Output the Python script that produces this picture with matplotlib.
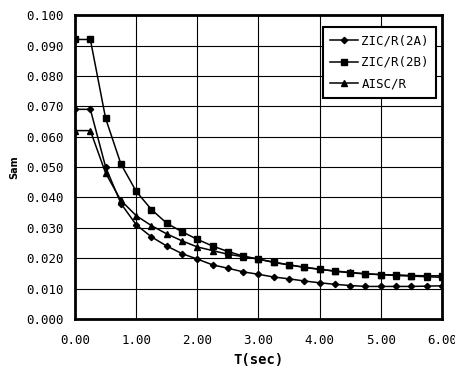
import matplotlib
matplotlib.use("Agg")
import matplotlib.pyplot as plt
import numpy as np

T = [0.0, 0.25, 0.5, 0.75, 1.0, 1.25, 1.5, 1.75, 2.0, 2.25, 2.5, 2.75, 3.0,
     3.25, 3.5, 3.75, 4.0, 4.25, 4.5, 4.75, 5.0, 5.25, 5.5, 5.75, 6.0]

zic_2a = [0.069, 0.069, 0.050, 0.038, 0.031, 0.027, 0.024, 0.0215, 0.0197,
          0.0178, 0.0167, 0.0155, 0.0147, 0.0138, 0.0132, 0.0125, 0.0119,
          0.0114, 0.0110, 0.0107, 0.0107, 0.0107, 0.0107, 0.0108, 0.0109]
zic_2b = [0.092, 0.092, 0.066, 0.051, 0.042, 0.036, 0.0315, 0.0287, 0.0262,
          0.0240, 0.0222, 0.0207, 0.0197, 0.0187, 0.0178, 0.0170, 0.0164,
          0.0157, 0.0152, 0.0148, 0.0146, 0.0145, 0.0143, 0.0142, 0.0142]
aisc = [0.062, 0.062, 0.048, 0.039, 0.034, 0.0307, 0.028, 0.0257, 0.0237,
        0.0225, 0.0213, 0.0205, 0.0197, 0.0186, 0.0178, 0.0170, 0.0163,
        0.0158, 0.0153, 0.0149, 0.0146, 0.0143, 0.0141, 0.0139, 0.0137]

labels = ["ZIC/R(2A)", "ZIC/R(2B)", "AISC/R"]
xticks = [0, 1, 2, 3, 4, 5, 6]
yticks = np.arange(0, 0.1001, 0.01)

mono = 'DejaVu Sans Mono'

fig = plt.figure(figsize=(4.55, 3.70), dpi=100)
ax = fig.add_axes([0.165, 0.138, 0.806, 0.821])

ax.plot(T, zic_2a, color='black', lw=1.1, marker='D', ms=3.2, label=labels[0])
ax.plot(T, zic_2b, color='black', lw=1.1, marker='s', ms=5, label=labels[1])
ax.plot(T, aisc, color='black', lw=1.1, marker='^', ms=4, label=labels[2])

ax.set_xlim(0, 6)
ax.set_ylim(0, 0.1)
ax.set_xticks(xticks)
ax.set_xticklabels(["%.2f" % v for v in xticks], family=mono, fontsize=9)
ax.set_yticks(yticks)
ax.set_yticklabels(["%.3f" % v for v in yticks], family=mono, fontsize=9)
ax.tick_params(axis='x', length=0, pad=11)
ax.tick_params(axis='y', length=0, pad=8)
ax.grid(True, color='black', lw=0.8)
ax.set_axisbelow(True)
for s in ax.spines.values():
    s.set_linewidth(2)

ax.set_xlabel("T(sec)", family=mono, fontsize=10, fontweight='bold', labelpad=4)
ax.set_ylabel("Sam", fontsize=7, fontweight='bold', labelpad=5)

leg = ax.legend(loc='upper right', prop={'family': mono, 'size': 9},
                fancybox=False, framealpha=1, edgecolor='black',
                bbox_to_anchor=(0.985, 0.96), borderaxespad=0,
                handlelength=2.2, handletextpad=0.3,
                labelspacing=0.65, borderpad=0.6)
leg.get_frame().set_linewidth(1.5)

fig.savefig("out.png", dpi=100)
